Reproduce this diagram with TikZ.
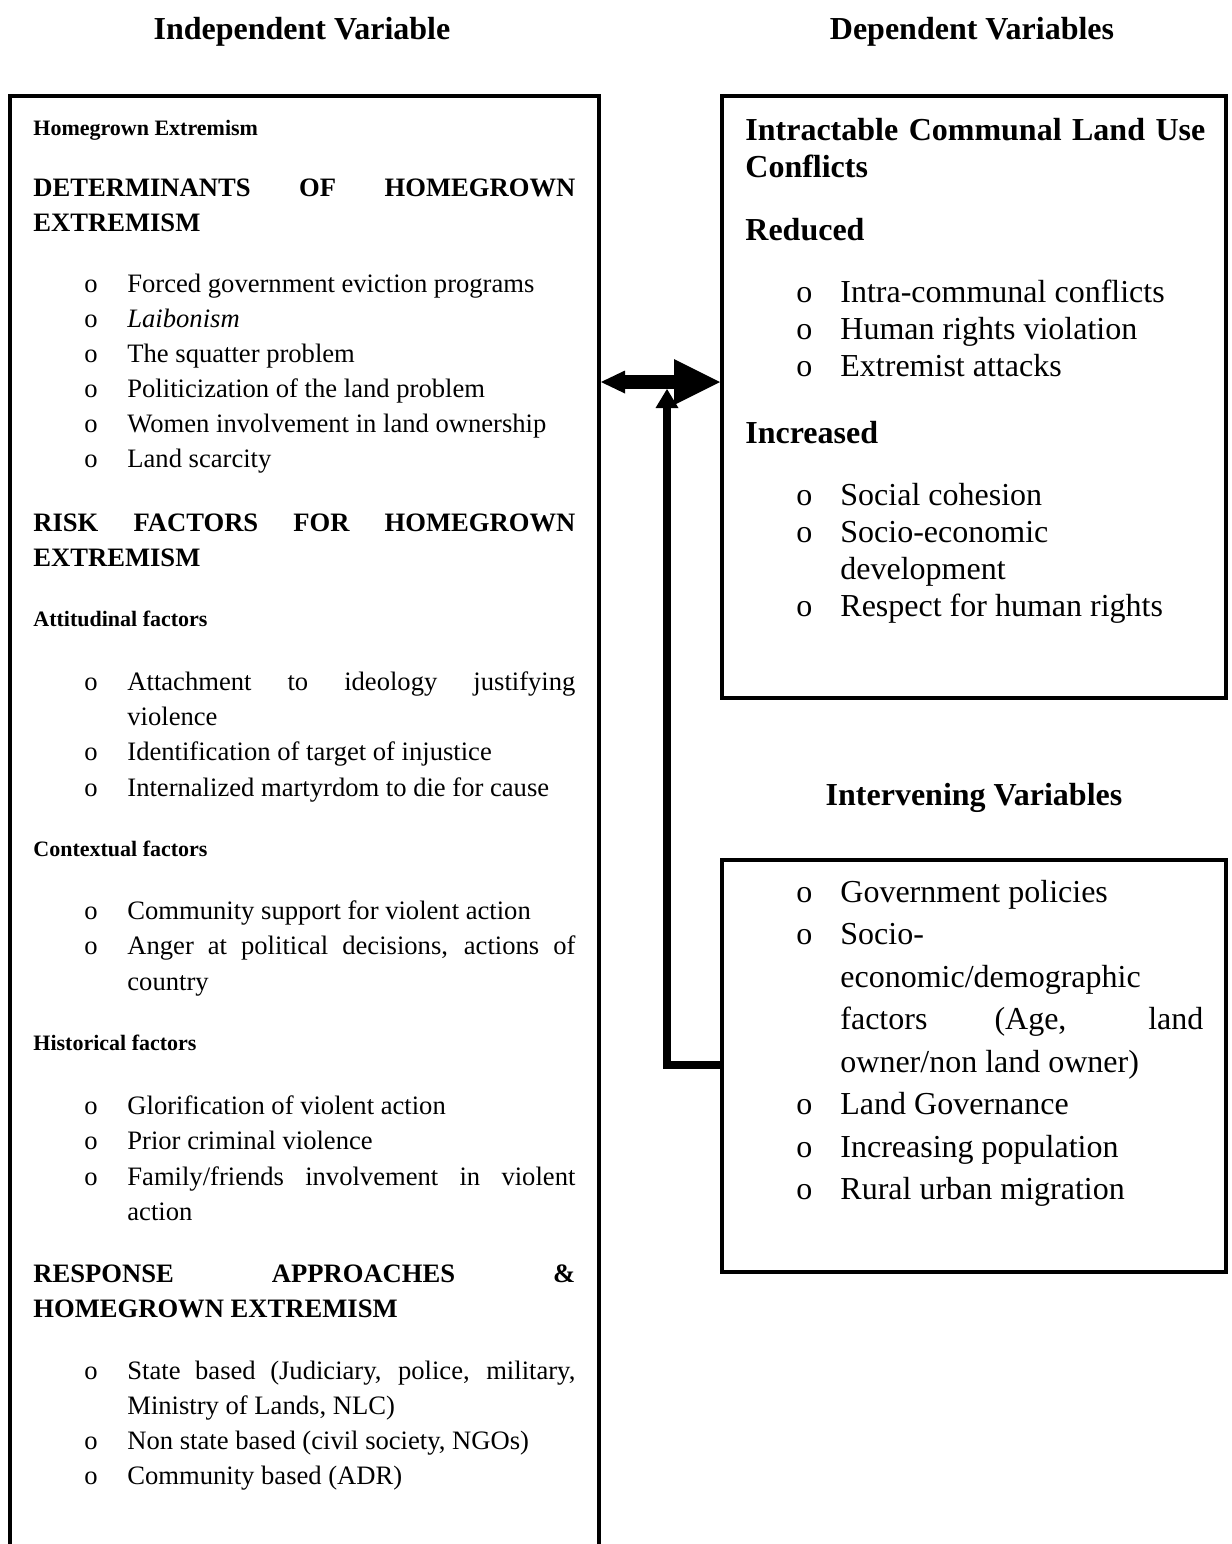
\documentclass[tikz,border=0pt]{standalone}
\usepackage{fontspec}
\setmainfont{Liberation Serif}
\usetikzlibrary{arrows.meta}
\begin{document}
\begin{tikzpicture}[x=0.5pt,y=-0.5pt,
  box/.style={draw, line width=2pt, inner sep=0pt, rectangle},
  ltxt/.style={anchor=base west, inner sep=0pt, font=\fontsize{13.3}{16}\selectfont},
  lhead/.style={anchor=base west, inner sep=0pt, font=\fontsize{13.3}{16}\selectfont\bfseries},
  lsub/.style={anchor=base west, inner sep=0pt, font=\fontsize{11}{13}\selectfont\bfseries},
  rtxt/.style={anchor=base west, inner sep=0pt, font=\fontsize{16}{19}\selectfont},
  rhead/.style={anchor=base west, inner sep=0pt, font=\fontsize{16}{19}\selectfont\bfseries},
  lbul/.style={anchor=base west, inner sep=0pt, font=\fontsize{13.3}{16}\selectfont},
  rbul/.style={anchor=base west, inner sep=0pt, font=\fontsize{16}{19}\selectfont},
  title/.style={anchor=base, inner sep=0pt, font=\fontsize{16}{19}\selectfont\bfseries}]
\clip (0,0) rectangle (1232,1544);
\fill[white] (0,0) rectangle (1232,1544);

% boxes
\node[box, minimum width=294.5pt, minimum height=752pt] (L) at (304.5,848) {};
\node[box, minimum width=252pt, minimum height=301pt] (D) at (974,397) {};
\node[box, minimum width=252pt, minimum height=206pt] (I) at (974,1066) {};

% titles
\node[title] (tIV) at (302,39) {Independent Variable};
\node[title] (tDV) at (972,39) {Dependent Variables};
\node[title] (tInt) at (974,805) {Intervening Variables};

% left box content
\node[lsub] (h1) at (33,135) {Homegrown Extremism};
\node[lhead] (h2) at (33,196) {\makebox[271pt][s]{DETERMINANTS OF HOMEGROWN}};
\node[lhead] (h2b) at (33,231) {EXTREMISM};
\foreach \y [count=\i] in {292,327,362,397,432,467,690,760,796,919,954,1114,1149,1185,1379,1449,1484}
  {\node[lbul] (lb\i) at (84,\y) {o};}
\node[ltxt] (l1) at (127,292) {Forced government eviction programs};
\node[ltxt] (l2) at (127,327) {\textit{Laibonism}};
\node[ltxt] (l3) at (127,362) {The squatter problem};
\node[ltxt] (l4) at (127,397) {Politicization of the land problem};
\node[ltxt] (l5) at (127,432) {Women involvement in land ownership};
\node[ltxt] (l6) at (127,467) {Land scarcity};

\node[lhead] (h3) at (33,531) {\makebox[271pt][s]{RISK FACTORS FOR HOMEGROWN}};
\node[lhead] (h3b) at (33,566) {EXTREMISM};
\node[lsub] (h4) at (33,626) {Attitudinal factors};
\node[ltxt] (l7) at (127,690) {\makebox[224pt][s]{Attachment to ideology justifying}};
\node[ltxt] (l7b) at (127,725) {violence};
\node[ltxt] (l8) at (127,760) {Identification of target of injustice};
\node[ltxt] (l9) at (127,796) {Internalized martyrdom to die for cause};

\node[lsub] (h5) at (33,856) {Contextual factors};
\node[ltxt] (l10) at (127,919) {Community support for violent action};
\node[ltxt] (l11) at (127,954) {\makebox[224pt][s]{Anger at political decisions, actions of}};
\node[ltxt] (l11b) at (127,990) {country};

\node[lsub] (h6) at (33,1050) {Historical factors};
\node[ltxt] (l12) at (127,1114) {Glorification of violent action};
\node[ltxt] (l13) at (127,1149) {Prior criminal violence};
\node[ltxt] (l14) at (127,1185) {\makebox[224pt][s]{Family/friends involvement in violent}};
\node[ltxt] (l14b) at (127,1220) {action};

\node[lhead] (h7) at (33,1282) {\makebox[271pt][s]{RESPONSE APPROACHES \&}};
\node[lhead] (h7b) at (33,1317) {HOMEGROWN EXTREMISM};
\node[ltxt] (l15) at (127,1379) {\makebox[224pt][s]{State based (Judiciary, police, military,}};
\node[ltxt] (l15b) at (127,1414) {Ministry of Lands, NLC)};
\node[ltxt] (l16) at (127,1449) {Non state based (civil society, NGOs)};
\node[ltxt] (l17) at (127,1484) {Community based (ADR)};

% dependent box content
\node[rhead] (d1) at (745,140) {\makebox[230pt][s]{Intractable Communal Land Use}};
\node[rhead] (d1b) at (745,177) {Conflicts};
\node[rhead] (d2) at (745,240) {Reduced};
\foreach \y [count=\i] in {302,339,376,505,542,616,902,944,1114,1157,1199}
  {\node[rbul] (rb\i) at (796,\y) {o};}
\node[rtxt] (r1) at (840,302) {Intra-communal conflicts};
\node[rtxt] (r2) at (840,339) {Human rights violation};
\node[rtxt] (r3) at (840,376) {Extremist attacks};
\node[rhead] (d3) at (745,443) {Increased};
\node[rtxt] (r4) at (840,505) {Social cohesion};
\node[rtxt] (r5) at (840,542) {Socio-economic};
\node[rtxt] (r5b) at (840,579) {development};
\node[rtxt] (r6) at (840,616) {Respect for human rights};

% intervening box content
\node[rtxt] (i1) at (840,902) {Government policies};
\node[rtxt] (i2) at (840,944) {Socio-};
\node[rtxt] (i2b) at (840,987) {economic/demographic};
\node[rtxt] (i2c) at (840,1029) {\makebox[181.5pt][s]{factors (Age, land}};
\node[rtxt] (i2d) at (840,1072) {owner/non land owner)};
\node[rtxt] (i3) at (840,1114) {Land Governance};
\node[rtxt] (i4) at (840,1157) {Increasing population};
\node[rtxt] (i5) at (840,1199) {Rural urban migration};

% connectors
\coordinate (ya) at (0,382);
\coordinate (yb) at (0,1065);
\coordinate (vt) at (667,389);
\draw[line width=7pt,
  {Triangle[length=12pt,width=11.5pt,line width=0pt]}-{Triangle[length=23pt,width=23pt,line width=0pt]}]
  (L.east |- ya) -- (D.west |- ya);
\draw[line width=4pt, line join=miter, -{Triangle[length=9.5pt,width=11.5pt,line width=0pt]}]
  (I.west |- yb) -| (vt);
\end{tikzpicture}
\end{document}
